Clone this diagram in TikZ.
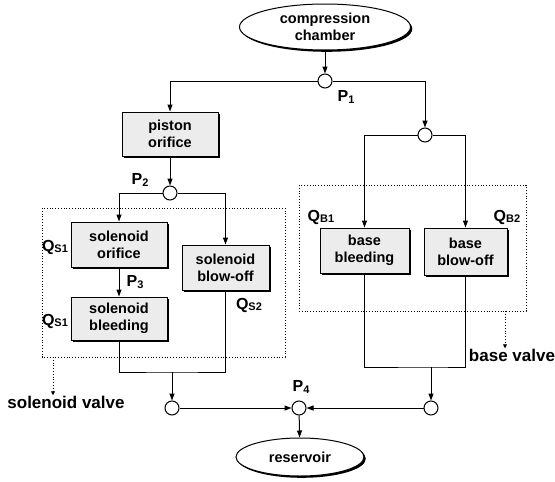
\documentclass[tikz,border=0pt]{standalone}
\usepackage{fontspec}
\setmainfont{Liberation Sans}
\usetikzlibrary{shapes.geometric,arrows.meta,shadows}
\newcommand{\idx}[2]{#1\raisebox{-1.2pt}{\fontsize{11}{11}\selectfont #2}}

\begin{document}
\begin{tikzpicture}
        [x=1pt,y=-1pt,line width=1pt,
         every node/.style={inner sep=0pt,font=\bfseries\fontsize{14.5}{17}\selectfont},
         flow/.style={-{Triangle[length=7pt,width=5pt]}},
         shade/.style={drop shadow={shadow xshift=1.8pt,shadow yshift=-1.8pt,fill=black,opacity=1}},
         block/.style={draw,fill=gray!15,align=center,shade},
         tank/.style={ellipse,draw,fill=white,align=center,shade},
         junc/.style={circle,draw,fill=white,minimum size=14pt},
         valve/.style={dotted,line width=0.8pt},
         big/.style={font=\bfseries\fontsize{17}{20}\selectfont},
         sym/.style={font=\bfseries\fontsize{16}{18}\selectfont}]
        \useasboundingbox (0,0) rectangle (555,482);

        % valve groups
        \draw[valve] (42,208) rectangle (285,357);
        \draw[valve] (299,185) rectangle (526,311);

        % chambers
        \node[tank,minimum width=171pt,minimum height=46pt] (chamber) at (325,27) {compression\\chamber};
        \node[tank,minimum width=128pt,minimum height=38pt] (reservoir) at (300,457) {reservoir};

        % junctions
        \node[junc] (P1) at (325,81)  {};
        \node[junc] (JR) at (425,135) {};
        \node[junc] (P2) at (170,193) {};
        \node[junc] (JS) at (172,408) {};
        \node[junc] (JB) at (431,408) {};
        \node[junc] (P4) at (299,408) {};

        % orifices
        \node[block,minimum width=96pt,minimum height=44pt] (piston) at (170,134)   {piston\\orifice};
        \node[block,minimum width=96pt,minimum height=45pt] (sorif)  at (119,244.5) {solenoid\\orifice};
        \node[block,minimum width=96pt,minimum height=43pt] (sbleed) at (119,318.5) {solenoid\\bleeding};
        \node[block,minimum width=87pt,minimum height=45pt] (sblow)  at (225.5,267.5) {solenoid\\blow-off};
        \node[block,minimum width=89pt,minimum height=45pt] (bbleed) at (364.5,250.5) {base\\bleeding};
        \node[block,minimum width=83pt,minimum height=47pt] (bblow)  at (465.5,251.5) {base\\blow-off};

        % labels
        \node[sym] (lP1)  at (346,97)  {\idx{P}{1}};
        \node[sym] (lP2)  at (140,180) {\idx{P}{2}};
        \node[sym] (lP3)  at (135,282) {\idx{P}{3}};
        \node[sym] (lP4)  at (301,387) {\idx{P}{4}};
        \node[sym] (lQS1) at (55,247)  {\idx{Q}{S1}};
        \node[sym] (lQS1b) at (55,321) {\idx{Q}{S1}};
        \node[sym] (lQS2) at (249,305) {\idx{Q}{S2}};
        \node[sym] (lQB1) at (321,217) {\idx{Q}{B1}};
        \node[sym] (lQB2) at (507,217) {\idx{Q}{B2}};
        \node[big] (lsv) at (66,402)  {solenoid valve};
        \node[big] (lbv) at (512,355) {base valve};

        \coordinate (sv) at (53,357);
        \coordinate (bv) at (505,311);
        \coordinate (sjoin) at (172,372);
        \coordinate (bjoin) at (431,367);

        \draw[flow] (chamber) -- (P1);
        \draw[flow] (P1.west) -| (piston.north);
        \draw[flow] (P1.east) -| (JR.north);
        \draw[flow] (JR.west) -| (bbleed.north);
        \draw[flow] (JR.east) -| (bblow.north);
        \draw[flow] (piston) -- (P2);
        \draw[flow] (P2.west) -| (sorif.north);
        \draw[flow] (P2.east) -| (sblow.north);
        \draw[flow] (sorif) -- (sbleed);

        % outflow
        \draw (sbleed.south) |- (sjoin) -| (sblow.south);
        \draw (bbleed.south) |- (bjoin) -| (bblow.south);
        \draw[flow] (sjoin) -- (JS);
        \draw[flow] (bjoin) -- (JB);
        \draw[flow] (JS) -- (P4);
        \draw[flow] (JB) -- (P4);
        \draw[flow] (P4) -- (reservoir);

        \draw[valve,-{Triangle[length=4pt,width=4pt]}] (sv) -- (lsv.north -| sv);
        \draw[valve,-{Triangle[length=4pt,width=4pt]}] (bv) -- (lbv.north -| bv);
\end{tikzpicture}
\end{document}
